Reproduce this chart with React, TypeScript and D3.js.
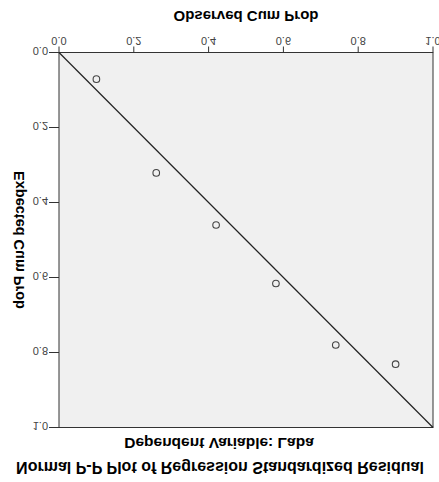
import React from "react";
import * as d3 from "d3";

const observed = [0.1, 0.26, 0.42, 0.58, 0.74, 0.9];
const expected = [0.071, 0.321, 0.46, 0.616, 0.78, 0.831];
const ticks = [0, 0.2, 0.4, 0.6, 0.8, 1.0];
const title = "Normal P-P Plot of Regression Standardized Residual";
const subtitle = "Dependent Variable: Laba";
const xLabel = "Observed Cum Prob";
const yLabel = "Expected Cum Prob";

const W = 439;
const H = 482;
const font = "'Liberation Sans', Arial, sans-serif";

export default function App() {
  const x = d3.scaleLinear().domain([0, 1]).range([59, 433]);
  const y = d3.scaleLinear().domain([0, 1]).range([429.5, 54.5]);
  const line = d3.line<number>().x((d) => x(d)).y((d) => y(d));
  const fmt = d3.format(".1f");
  const axisColor = "#333";
  return (
    <svg
      width={W}
      height={H}
      style={{ position: "fixed", left: 0, top: 0, background: "#fff" }}
    >
      <rect width={W} height={H} fill="#fff" />
      <g transform={`translate(0,${H}) scale(1,-1)`} fontFamily={font}>
        <rect
          x={x(0)}
          y={y(1)}
          width={x(1) - x(0)}
          height={y(0) - y(1)}
          fill="#f0f0f0"
          stroke={axisColor}
          strokeWidth={1}
        />
        <path d={line([0, 1]) || ""} stroke="#222" strokeWidth={1.2} fill="none" />
        {observed.map((o, i) => (
          <circle
            key={i}
            cx={x(o)}
            cy={y(expected[i])}
            r={3.3}
            fill="none"
            stroke="#444"
            strokeWidth={1.1}
          />
        ))}
        {ticks.map((t) => (
          <g key={"x" + t}>
            <line x1={x(t)} x2={x(t)} y1={y(0)} y2={y(0) + 6} stroke={axisColor} />
            <text
              x={x(t)}
              y={y(0) + 12}
              fontSize={11}
              fill="#444"
              textAnchor="middle"
              dominantBaseline="central"
            >
              {fmt(t)}
            </text>
          </g>
        ))}
        {ticks.map((t) => (
          <g key={"y" + t}>
            <line x1={x(0) - 10} x2={x(0)} y1={y(t)} y2={y(t)} stroke={axisColor} />
            <text
              x={x(0) - 11}
              y={y(t) + 1.5}
              fontSize={11}
              fill="#444"
              textAnchor="end"
              dominantBaseline="central"
            >
              {fmt(t)}
            </text>
          </g>
        ))}
        <text
          x={(x(0) + x(1)) / 2}
          y={466}
          fontSize={15}
          fontWeight="bold"
          fill="#000"
          textAnchor="middle"
          dominantBaseline="central"
        >
          {xLabel}
        </text>
        <text
          transform={`translate(19,${(y(0) + y(1)) / 2}) rotate(-90)`}
          fontSize={14.5}
          fontWeight="bold"
          fill="#000"
          textAnchor="middle"
          dominantBaseline="central"
        >
          {yLabel}
        </text>
        <text
          x={219}
          y={39}
          fontSize={15.5}
          fontWeight="bold"
          fill="#000"
          textAnchor="middle"
          dominantBaseline="central"
        >
          {subtitle}
        </text>
        <text
          x={220}
          y={15}
          fontSize={16}
          fontWeight="bold"
          fill="#000"
          textAnchor="middle"
          dominantBaseline="central"
        >
          {title}
        </text>
      </g>
    </svg>
  );
}
